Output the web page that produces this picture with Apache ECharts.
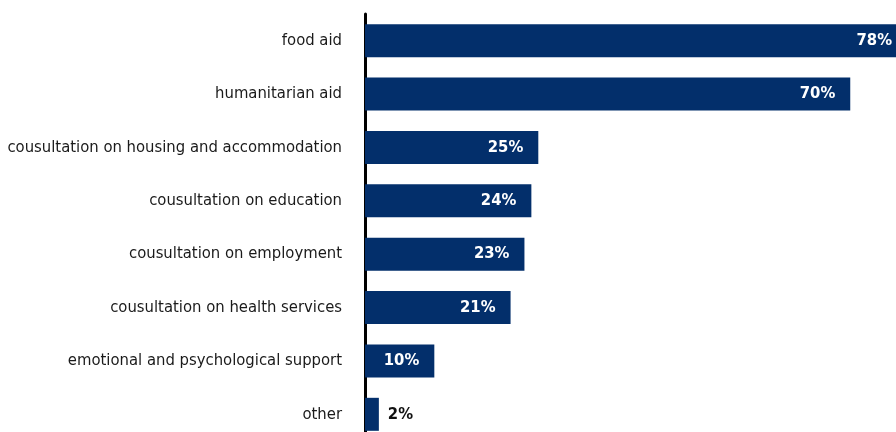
<!DOCTYPE html>
<html>
<head>
<meta charset="utf-8">
<script src="https://cdn.jsdelivr.net/npm/echarts@6/dist/echarts.min.js"></script>
<style>
  html, body { margin: 0; padding: 0; background: #fff; }
  #chart { width: 896px; height: 432px; }
</style>
</head>
<body>
<div id="chart"></div>
<script>
// Kinds of support received, share of respondents (%)
const categories = [
  'food aid',
  'humanitarian aid',
  'cousultation on housing and accommodation',
  'cousultation on education',
  'cousultation on employment',
  'cousultation on health services',
  'emotional and psychological support',
  'other'
];
const shares = [78, 70, 25, 24, 23, 21, 10, 2];

const FONT = '"DejaVu Sans Condensed", "Liberation Sans Narrow", "Noto Sans", sans-serif';
const BAR = '#032f6b';

const chart = echarts.init(document.getElementById('chart'), null, { renderer: 'canvas' });

const seriesData = shares.map(function (v) {
  const item = { value: v };
  if (v < 5) {
    item.label = { position: 'right', distance: 9, color: '#111' };
  } else if (v > 76) {
    item.label = { distance: 4 };
  }
  return item;
});

chart.setOption({
  animation: false,
  grid: { left: 365, right: 0, top: 14, height: 427, outerBoundsMode: 'none', containLabel: false },
  xAxis: {
    type: 'value',
    min: 0,
    max: 76.6,
    show: false
  },
  yAxis: {
    type: 'category',
    data: categories,
    inverse: true,
    offset: 2,
    axisLine: { show: true, lineStyle: { color: '#000', width: 3 } },
    axisTick: { show: false },
    axisLabel: {
      margin: 21,
      color: '#1a1a1a',
      fontFamily: FONT,
      fontSize: 16.5
    }
  },
  series: [{
    type: 'bar',
    data: seriesData,
    barWidth: 33,
    itemStyle: { color: BAR },
    label: {
      show: true,
      position: 'insideRight',
      distance: 15,
      color: '#fff',
      fontFamily: FONT,
      fontWeight: 'bold',
      fontSize: 16.5,
      formatter: function (p) { return p.value + '%'; }
    }
  }]
});
</script>
</body>
</html>
